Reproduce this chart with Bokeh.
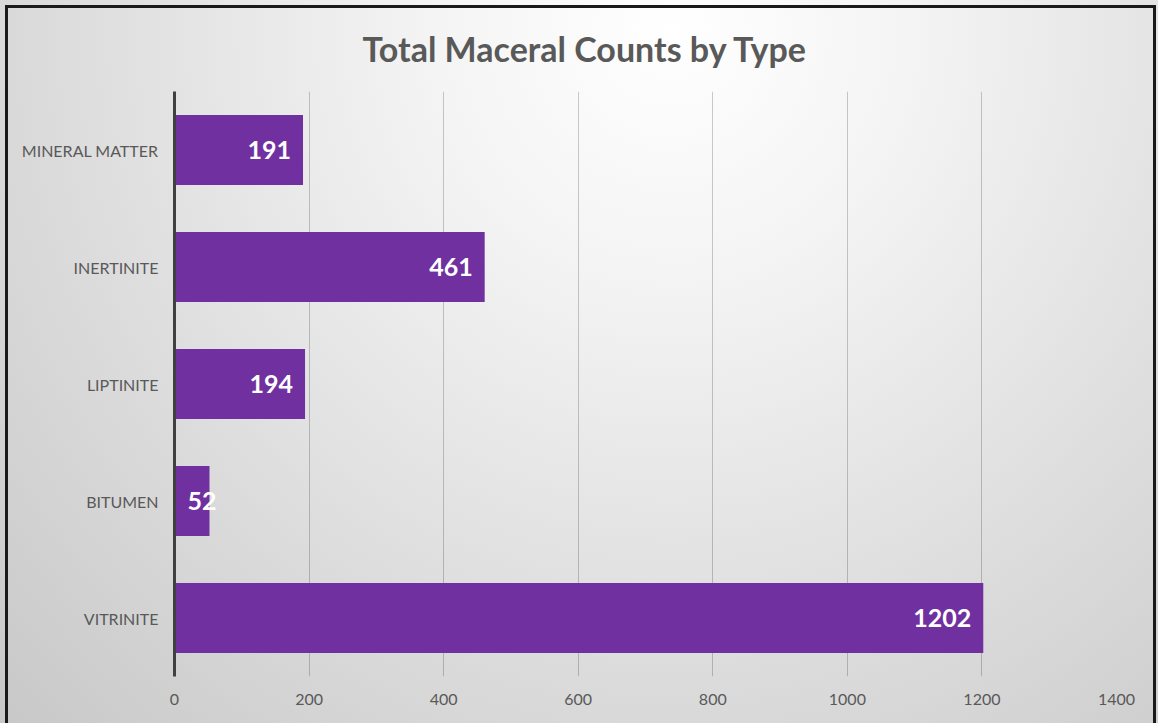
from bokeh.plotting import figure
from bokeh.models import (ColumnDataSource, FactorRange, Range1d, FixedTicker,
                          Title, InlineStyleSheet)
from bokeh.core.properties import value
from bokeh.embed import file_html
from bokeh.resources import INLINE

# Maceral point counts (first category is drawn at the bottom)
categories = ["VITRINITE", "BITUMEN", "LIPTINITE", "INERTINITE", "MINERAL MATTER"]
counts = [1202, 52, 194, 461, 191]
x_ticks = [0, 200, 400, 600, 800, 1000, 1200, 1400]
title_text = "Total Maceral Counts by Type"

FONT = "Lato"
BAR_COLOR = "#7030A0"
TEXT_GRAY = "#595959"

# Labels sit just inside the bar end; very short bars get them at the bar start
inside = [c >= 100 for c in counts]
src = ColumnDataSource(dict(
    cat=categories,
    count=counts,
    label=[str(c) for c in counts],
    lx=[c if ok else 0 for c, ok in zip(counts, inside)],
    align=["right" if ok else "left" for ok in inside],
    xoff=[-12 if ok else 13 for ok in inside],
))

p = figure(
    width=1158, height=723,
    y_range=FactorRange(factors=categories, range_padding=0),
    x_range=Range1d(0, 1400),
    output_backend="svg", toolbar_location=None,
    min_border_left=174, min_border_right=42,
    min_border_top=91, min_border_bottom=47,
)
p.background_fill_color = None
p.border_fill_color = None
p.outline_line_color = None

# Radial backdrop and the dark frame on the top, left and right edges
p.stylesheets = [InlineStyleSheet(css="""
:host {
  background:
    linear-gradient(#1a1a1a, #1a1a1a) 5px 5px / 3px 100% no-repeat,
    linear-gradient(#1a1a1a, #1a1a1a) 5px 5px / 1150px 3px no-repeat,
    linear-gradient(#1a1a1a, #1a1a1a) 1153px 5px / 3px 100% no-repeat,
    radial-gradient(ellipse farthest-corner at 58% 4%, #ffffff 0%, #f4f4f4 25%, #dcdcdc 65%, #c8c8c8 100%);
}
""")]

p.hbar(y="cat", right="count", height=0.6, source=src,
       fill_color=BAR_COLOR, line_color=None)

p.text(x="lx", y="cat", text="label", source=src,
       text_align="align", x_offset="xoff", text_baseline="middle",
       text_color="white", text_font_size="25px", text_font_style="bold",
       text_font=value(FONT))

# Axes
p.xaxis.ticker = FixedTicker(ticks=x_ticks)
p.xaxis.axis_line_color = None
p.xaxis.major_tick_line_color = None
p.xaxis.minor_tick_line_color = None
p.xaxis.major_tick_out = 0
p.xaxis.major_label_standoff = 17
p.xaxis.major_label_text_font = FONT
p.xaxis.major_label_text_font_size = "16px"
p.xaxis.major_label_text_color = TEXT_GRAY

p.yaxis.axis_line_color = "#404040"
p.yaxis.axis_line_width = 3
p.yaxis.major_tick_line_color = None
p.yaxis.minor_tick_line_color = None
p.yaxis.major_tick_out = 0
p.yaxis.major_label_standoff = 16
p.yaxis.major_label_text_font = FONT
p.yaxis.major_label_text_font_size = "16px"
p.yaxis.major_label_text_color = TEXT_GRAY

p.xgrid.grid_line_color = "black"
p.xgrid.grid_line_alpha = 0.2
p.ygrid.grid_line_color = None

p.add_layout(Title(text=title_text, align="left", offset=188, standoff=46,
                   text_font=FONT, text_font_size="34px", text_font_style="bold",
                   text_color=TEXT_GRAY), "above")

open("out.html", "w").write(file_html(p, INLINE))
